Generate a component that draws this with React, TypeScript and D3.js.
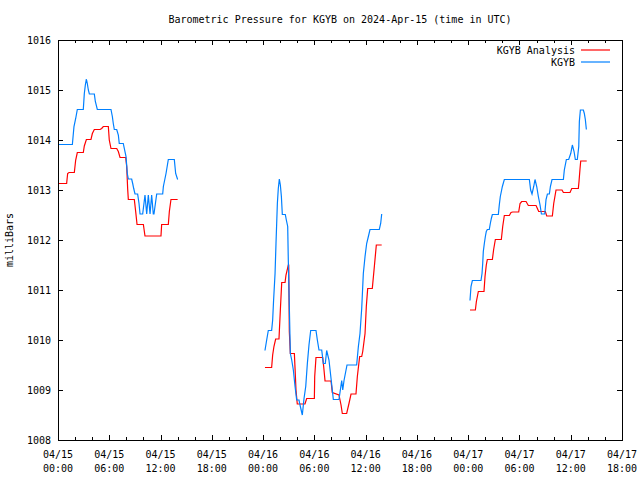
import React from "react";
import * as d3 from "d3";

// hours since 2024-04-15 00:00 UTC, pressure in mb; NaN marks a data gap
const analysisData: [number, number][] = [
  [0, 1013.13], [1.01, 1013.13], [1.13, 1013.33], [1.29, 1013.35], [1.91, 1013.35], [2.07, 1013.6],
  [2.26, 1013.75], [2.96, 1013.75], [3.08, 1013.88], [3.32, 1014.01], [3.86, 1014.01], [4.02, 1014.13],
  [4.25, 1014.21], [4.92, 1014.21], [5.11, 1014.23], [5.3, 1014.27], [5.89, 1014.27], [6.0, 1014.0],
  [6.2, 1013.83], [6.87, 1013.83], [7.06, 1013.77], [7.26, 1013.65], [7.92, 1013.65], [8.04, 1013.47],
  [8.15, 1013.03], [8.23, 1012.81], [8.93, 1012.81], [9.09, 1012.57], [9.25, 1012.31], [9.99, 1012.31],
  [10.18, 1012.08], [12.05, 1012.08], [12.13, 1012.31], [12.91, 1012.31], [13.03, 1012.57], [13.22, 1012.81],
  [14.0, 1012.81],
  [19, NaN],
  [24.22, 1009.45], [25.0, 1009.45], [25.12, 1009.7], [25.27, 1009.87], [25.47, 1010.02], [25.86, 1010.02],
  [26.02, 1010.6], [26.18, 1011.15], [26.57, 1011.15], [26.68, 1011.3], [26.95, 1011.5], [27.0, 1011.5],
  [27.07, 1010.17], [27.19, 1009.73], [27.66, 1009.73], [27.74, 1009.43], [27.85, 1009.0], [28.0, 1008.72],
  [28.9, 1008.72], [29.1, 1008.83], [30.0, 1008.83], [30.04, 1009.27], [30.19, 1009.65], [30.97, 1009.65],
  [31.09, 1009.47], [31.25, 1009.18], [31.95, 1009.18], [32.1, 1008.95], [32.88, 1008.9], [33.12, 1008.7],
  [33.27, 1008.53], [33.78, 1008.53], [34.05, 1008.73], [34.29, 1008.92], [34.87, 1008.92], [35.03, 1009.27],
  [35.3, 1009.67], [35.54, 1009.67], [35.66, 1009.77], [35.93, 1010.13], [36.08, 1010.67], [36.24, 1011.03],
  [36.78, 1011.03], [37.02, 1011.47], [37.25, 1011.9], [37.88, 1011.9],
  [43, NaN],
  [48.21, 1010.6], [48.84, 1010.6], [48.96, 1010.77], [49.19, 1010.97], [49.85, 1010.97], [49.97, 1011.27],
  [50.12, 1011.5], [50.24, 1011.61], [50.83, 1011.61], [50.98, 1011.81], [51.18, 1012.01], [51.88, 1012.01],
  [52.04, 1012.27], [52.23, 1012.49], [52.82, 1012.49], [53.01, 1012.55], [53.21, 1012.56], [53.91, 1012.56],
  [54.07, 1012.73], [54.26, 1012.77], [54.77, 1012.77], [55.04, 1012.69], [55.94, 1012.69], [56.1, 1012.63],
  [56.25, 1012.57], [57.03, 1012.57], [57.19, 1012.48], [57.85, 1012.48], [58.01, 1012.73], [58.28, 1013.0],
  [58.98, 1013.0], [59.14, 1012.95], [59.92, 1012.95], [60.12, 1013.03], [60.89, 1013.03], [60.97, 1013.17],
  [61.09, 1013.43], [61.17, 1013.58], [61.87, 1013.58],
];

const observedData: [number, number][] = [
  [0, 1013.91], [1.68, 1013.91], [1.87, 1014.27], [2.07, 1014.43], [2.26, 1014.61], [2.96, 1014.61],
  [3.08, 1014.93], [3.2, 1015.1], [3.32, 1015.22], [3.43, 1015.13], [3.55, 1015.0], [3.67, 1014.92],
  [4.25, 1014.92], [4.37, 1014.77], [4.6, 1014.61], [6.2, 1014.61], [6.36, 1014.47], [6.47, 1014.33],
  [6.59, 1014.21], [6.87, 1014.21], [7.06, 1014.1], [7.17, 1013.93], [7.64, 1013.93], [7.76, 1013.83],
  [7.96, 1013.67], [8.11, 1013.33], [8.23, 1013.22], [8.62, 1013.22], [8.74, 1013.13], [8.86, 1013.03],
  [9.01, 1012.92], [9.32, 1012.92], [9.48, 1012.73], [9.6, 1012.52], [9.91, 1012.52], [10.18, 1012.9],
  [10.38, 1012.52], [10.57, 1012.9], [10.77, 1012.52], [10.96, 1012.9], [11.15, 1012.52], [11.23, 1012.52],
  [11.55, 1012.92], [12.25, 1012.92], [12.33, 1013.07], [12.64, 1013.33], [12.91, 1013.61], [13.61, 1013.61],
  [13.77, 1013.33], [14.0, 1013.21],
  [19, NaN],
  [24.22, 1009.79], [24.42, 1010.0], [24.61, 1010.19], [25.0, 1010.19], [25.12, 1010.4], [25.23, 1010.8],
  [25.4, 1011.33], [25.51, 1011.93], [25.67, 1012.73], [25.78, 1013.03], [25.9, 1013.22], [26.02, 1013.1],
  [26.14, 1012.87], [26.25, 1012.51], [26.6, 1012.51], [26.72, 1012.4], [26.88, 1012.27], [26.95, 1011.6],
  [27.07, 1010.67], [27.19, 1009.73], [27.35, 1009.6], [27.54, 1009.4], [27.74, 1009.07], [27.93, 1008.8],
  [28.2, 1008.8], [28.32, 1008.7], [28.59, 1008.5], [28.79, 1008.83], [28.99, 1009.07], [29.18, 1009.53],
  [29.37, 1009.9], [29.57, 1010.19], [30.19, 1010.19], [30.35, 1010.0], [30.54, 1009.8], [30.86, 1009.8],
  [31.05, 1009.53], [31.28, 1009.53], [31.44, 1009.79], [31.71, 1009.6], [31.95, 1009.23], [32.1, 1009.0],
  [32.22, 1008.81], [32.88, 1008.81], [33.04, 1009.0], [33.2, 1009.19], [33.32, 1009.0], [33.47, 1009.19],
  [33.82, 1009.5], [34.95, 1009.5], [35.15, 1009.87], [35.34, 1010.13], [35.54, 1010.63], [35.73, 1011.33],
  [35.93, 1011.67], [36.12, 1011.93], [36.32, 1012.07], [36.51, 1012.21], [37.6, 1012.21], [37.76, 1012.33],
  [37.88, 1012.52],
  [43, NaN],
  [48.21, 1010.79], [48.33, 1011.07], [48.49, 1011.19], [49.5, 1011.19], [49.62, 1011.33], [49.7, 1011.53],
  [49.77, 1011.77], [49.89, 1011.93], [50.01, 1012.07], [50.12, 1012.17], [50.24, 1012.21], [50.47, 1012.21],
  [50.59, 1012.33], [50.71, 1012.43], [50.83, 1012.51], [51.53, 1012.51], [51.64, 1012.7], [51.76, 1012.87],
  [51.88, 1012.97], [52.0, 1013.07], [52.23, 1013.21], [55.16, 1013.21], [55.31, 1013.0], [55.47, 1012.92],
  [55.67, 1013.07], [55.82, 1013.21], [56.02, 1013.07], [56.21, 1012.87], [56.41, 1012.7], [56.57, 1012.52],
  [56.96, 1012.52], [57.11, 1012.81], [57.27, 1012.92], [57.5, 1012.92], [57.62, 1013.07], [57.81, 1013.21],
  [59.14, 1013.21], [59.25, 1013.4], [59.49, 1013.61], [59.76, 1013.61], [60.0, 1013.73], [60.19, 1013.9],
  [60.39, 1013.77], [60.54, 1013.61], [60.77, 1013.61], [60.94, 1013.87], [61.01, 1014.37], [61.13, 1014.6],
  [61.48, 1014.6], [61.59, 1014.53], [61.71, 1014.41], [61.83, 1014.21],
];

const xTickHours = [0, 6, 12, 18, 24, 30, 36, 42, 48, 54, 60, 66];
const xTickDates = ["04/15", "04/15", "04/15", "04/15", "04/16", "04/16", "04/16", "04/16", "04/17", "04/17", "04/17", "04/17"];
const xTickTimes = ["00:00", "06:00", "12:00", "18:00", "00:00", "06:00", "12:00", "18:00", "00:00", "06:00", "12:00", "18:00"];
const yTicks = [1008, 1009, 1010, 1011, 1012, 1013, 1014, 1015, 1016];
const seriesNames = ["KGYB Analysis", "KGYB"];
const seriesColors = ["#ff0000", "#0080ff"];
const titleText = "Barometric Pressure for KGYB on 2024-Apr-15 (time in UTC)";
const yLabel = "milliBars";

const W = 640, H = 480;
const L = 58, R = 622, T = 40, B = 440;
const FONT = "'DejaVu Sans Mono', 'Liberation Mono', monospace";

export default function App() {
  const x = d3.scaleLinear().domain([0, 66]).range([L, R]);
  const y = d3.scaleLinear().domain([1008, 1016]).range([B, T]);
  const line = d3
    .line<[number, number]>()
    .defined((d) => !isNaN(d[1]))
    .x((d) => x(d[0]))
    .y((d) => y(d[1]));
  const minorHours = d3.range(0, 67, 2);
  const series = [analysisData, observedData];

  return (
    <svg
      width={W}
      height={H}
      style={{ position: "fixed", left: 0, top: 0, background: "#fff" }}
      fontFamily={FONT}
      fontSize={10}
    >
      <rect x={0} y={0} width={W} height={H} fill="#fff" />
      <text x={(L + R) / 2} y={23} textAnchor="middle" fill="#000">
        {titleText}
      </text>
      <text transform={`translate(13,${(T + B) / 2}) rotate(-90)`} textAnchor="middle" fill="#000">
        {yLabel}
      </text>
      {/* ticks */}
      <g stroke="#000" strokeWidth={1} shapeRendering="crispEdges">
        {minorHours.map((h) => {
          const len = h % 6 === 0 ? 5 : 3;
          const xx = Math.round(x(h)) + 0.5;
          return (
            <g key={"xt" + h}>
              <line x1={xx} x2={xx} y1={B} y2={B - len} />
              <line x1={xx} x2={xx} y1={T} y2={T + len} />
            </g>
          );
        })}
        {yTicks.map((v) => {
          const yy = Math.round(y(v)) + 0.5;
          return (
            <g key={"yt" + v}>
              <line x1={L} x2={L + 5} y1={yy} y2={yy} />
              <line x1={R} x2={R - 5} y1={yy} y2={yy} />
            </g>
          );
        })}
      </g>
      {yTicks.map((v) => (
        <text key={"yl" + v} x={L - 7} y={y(v)} dy="0.35em" textAnchor="end" fill="#000">
          {v}
        </text>
      ))}
      {xTickHours.map((h, i) => (
        <g key={"xl" + h}>
          <text x={x(h)} y={458} textAnchor="middle" fill="#000">
            {xTickDates[i]}
          </text>
          <text x={x(h)} y={472} textAnchor="middle" fill="#000">
            {xTickTimes[i]}
          </text>
        </g>
      ))}
      {/* data */}
      {series.map((s, i) => (
        <path key={"s" + i} d={line(s) || ""} fill="none" stroke={seriesColors[i]} strokeWidth={1.2} />
      ))}
      {/* legend */}
      {seriesNames.map((n, i) => (
        <g key={"lg" + i}>
          <text x={575} y={50 + i * 12.5} dy="0.35em" textAnchor="end" fill="#000">
            {n}
          </text>
          <line x1={581} x2={610} y1={50 + i * 12} y2={50 + i * 12} stroke={seriesColors[i]} strokeWidth={1.2} />
        </g>
      ))}
      <rect x={L + 0.5} y={T + 0.5} width={R - L} height={B - T} fill="none" stroke="#000" strokeWidth={1} shapeRendering="crispEdges" />
    </svg>
  );
}
